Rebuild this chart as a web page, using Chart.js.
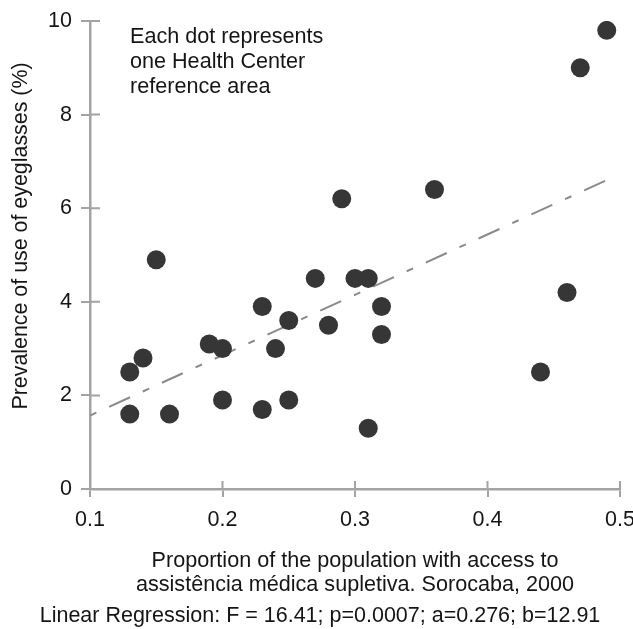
<!DOCTYPE html>
<html lang="en">
<head>
    <meta charset="UTF-8">
    <title>Eyeglasses vs supplementary care</title>
    <script src="https://cdn.jsdelivr.net/npm/chart.js"></script>
    <style>
        body { margin: 0; background: #fff; }
    </style>
</head>
<body>
    <canvas id="scatterChart" width="633" height="629"></canvas>

    <script>
        // one dot per Health Center reference area
        const coverage   = [0.13, 0.14, 0.13, 0.15, 0.16, 0.19, 0.20, 0.20, 0.23, 0.23, 0.24, 0.25, 0.25,
                            0.27, 0.28, 0.29, 0.30, 0.31, 0.31, 0.32, 0.32, 0.36, 0.44, 0.46, 0.47, 0.49];
        const eyeglasses = [2.5, 2.8, 1.6, 4.9, 1.6, 3.1, 3.0, 1.9, 3.9, 1.7, 3.0, 3.6, 1.9,
                            4.5, 3.5, 6.2, 4.5, 4.5, 1.3, 3.9, 3.3, 6.4, 2.5, 4.2, 9.0, 9.8];

        // regression line, read at its two ends
        const fitX = [0.10, 0.49];
        const fitY = [1.57, 6.60];

        const xTicks = [0.1, 0.2, 0.3, 0.4, 0.5];
        const yTicks = [0, 2, 4, 6, 8, 10];

        const noteLines = ['Each dot represents', 'one Health Center', 'reference area'];
        const yTitle = 'Prevalence of use of eyeglasses (%)';
        const xTitle = ['Proportion of the population with access to', 'assistência médica supletiva. Sorocaba, 2000'];
        const footnote = 'Linear Regression: F = 16.41; p=0.0007; a=0.276; b=12.91';

        const ink = '#151515';
        const axisGrey = '#a3a3a3';
        const family = '"Liberation Sans", Arial, sans-serif';

        Chart.defaults.font.family = family;
        Chart.defaults.color = ink;

        // text in the plot, the footnote and the inner half of the tick marks
        const extrasPlugin = {
            id: 'extras',
            beforeDatasetsDraw(chart) {
                const ctx = chart.ctx;
                const { x, y } = chart.scales;
                const area = chart.chartArea;
                ctx.save();
                ctx.strokeStyle = axisGrey;
                ctx.lineWidth = 2;
                ctx.beginPath();
                yTicks.forEach(v => {
                    const py = y.getPixelForValue(v);
                    ctx.moveTo(area.left, py);
                    ctx.lineTo(area.left + 10, py);
                });
                xTicks.forEach(v => {
                    const px = x.getPixelForValue(v);
                    ctx.moveTo(px, area.bottom);
                    ctx.lineTo(px, area.bottom - 8);
                });
                ctx.stroke();

                ctx.fillStyle = ink;
                ctx.font = '21.6px ' + family;
                ctx.textBaseline = 'middle';
                ctx.textAlign = 'left';
                noteLines.forEach((line, i) => {
                    ctx.fillText(line, area.left + 40, area.top + 16 + i * 24.8);
                });

                // footnote sits left of the plot centre, so it is drawn here
                ctx.font = '21.5px ' + family;
                ctx.textAlign = 'center';
                ctx.textBaseline = 'alphabetic';
                ctx.fillText(footnote, 320, 621.5);

                // y title drawn by hand so it can sit a little above centre
                ctx.font = '21.4px ' + family;
                ctx.textBaseline = 'middle';
                ctx.translate(21, (area.top + area.bottom) / 2 - 19);
                ctx.rotate(-Math.PI / 2);
                ctx.fillText(yTitle, 0, 0);
                ctx.restore();
            }
        };

        const ctx = document.getElementById('scatterChart').getContext('2d');

        new Chart(ctx, {
            type: 'scatter',
            data: {
                datasets: [{
                    label: 'Areas',
                    data: coverage.map((v, i) => ({ x: v, y: eyeglasses[i] })),
                    backgroundColor: '#363636',
                    borderColor: '#363636',
                    borderWidth: 0,
                    pointRadius: 9.5,
                    pointHoverRadius: 9.5
                }, {
                    type: 'line',
                    label: 'Regression',
                    data: fitX.map((v, i) => ({ x: v, y: fitY[i] })),
                    borderColor: '#8a8a8a',
                    borderWidth: 2,
                    borderDash: [7, 14, 23, 14],
                    pointRadius: 0,
                    fill: false
                }]
            },
            options: {
                responsive: false,
                animation: false,
                devicePixelRatio: 1,
                layout: { padding: { top: 21, right: 13, bottom: 27.2, left: 0 } },
                plugins: {
                    legend: { display: false },
                    tooltip: { enabled: false }
                },
                scales: {
                    x: {
                        type: 'linear',
                        min: 0.1,
                        max: 0.5,
                        afterBuildTicks: s => { s.ticks = xTicks.map(v => ({ value: v })); },
                        afterFit: s => { s.height = 112.8; s.paddingLeft = 0; s.paddingRight = 0; },
                        ticks: {
                            padding: 10,
                            color: ink,
                            font: { size: 21.5 },
                            maxRotation: 0,
                            callback: v => v.toFixed(1)
                        },
                        grid: { drawOnChartArea: false, tickLength: 8, color: axisGrey, lineWidth: 2 },
                        border: { display: true, color: axisGrey, width: 2.5 },
                        title: {
                            display: true,
                            text: xTitle,
                            color: ink,
                            font: { size: 21.6, lineHeight: 1.08 },
                            padding: { top: 0, bottom: 5.5 }
                        }
                    },
                    y: {
                        min: 0,
                        max: 10,
                        afterBuildTicks: s => { s.ticks = yTicks.map(v => ({ value: v })); },
                        afterFit: s => { s.width = 90; s.paddingTop = 0; s.paddingBottom = 0; },
                        ticks: { padding: 9, color: ink, font: { size: 21.5 } },
                        grid: { drawOnChartArea: false, tickLength: 9, color: axisGrey, lineWidth: 2 },
                        border: { display: true, color: axisGrey, width: 2.5 }
                    }
                }
            },
            plugins: [extrasPlugin]
        });
    </script>
</body>
</html>
